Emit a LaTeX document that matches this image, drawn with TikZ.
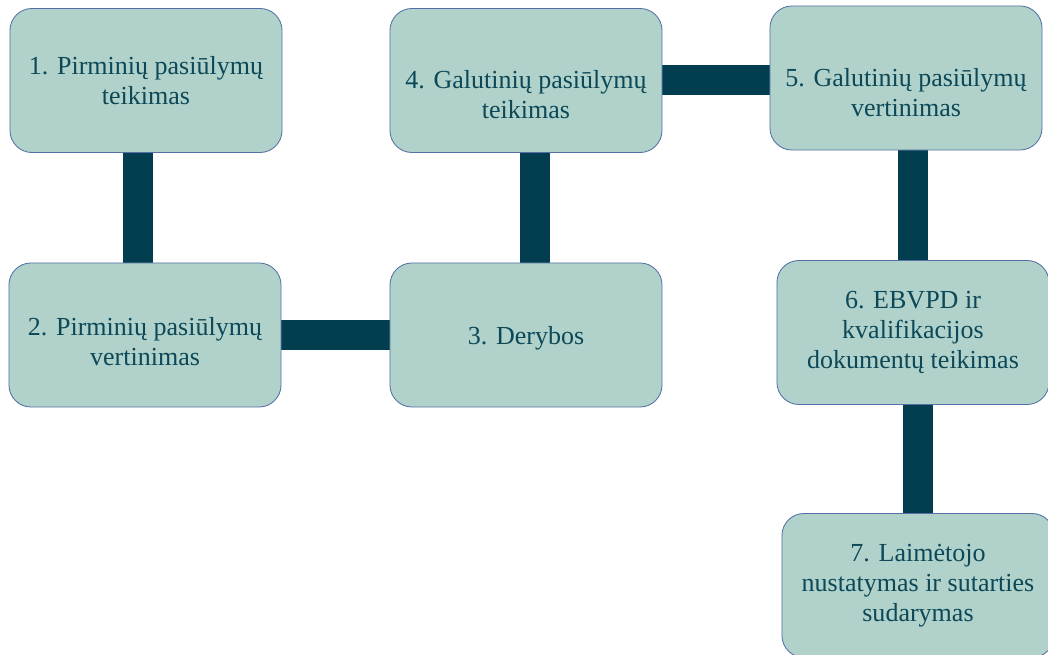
\documentclass[tikz,border=0pt]{standalone}
\usepackage{fontspec}
\setmainfont{Liberation Serif}
\usetikzlibrary{backgrounds}
\definecolor{boxfill}{RGB}{176,210,202}
\definecolor{boxline}{RGB}{84,112,164}
\definecolor{boxtext}{RGB}{12,72,88}
\definecolor{barcol}{RGB}{2,62,80}

\begin{document}
\begin{tikzpicture}[x=0.025cm, y=-0.025cm,
    stage/.style={draw=boxline, line width=0.6pt, fill=boxfill, rounded corners=0.55cm,
        minimum width=6.8cm, minimum height=3.6cm, inner sep=0pt},
    stagetext/.style={align=center, text=boxtext, inner sep=0pt,
        font=\fontsize{18.5}{21.3}\selectfont},
    bar/.style={draw=barcol, line width=0.75cm}]
    \useasboundingbox (0,0) rectangle (1048,655);
    \node[stage, label={[stagetext]center:{1. Pirminių pasiūlymų\\teikimas}}] (b1) at (146,80.5) {};
    \node[stage, label={[stagetext, yshift=-0.16cm]center:{2. Pirminių pasiūlymų\\vertinimas}}] (b2) at (145,335) {};
    \node[stage, label={[stagetext, yshift=-0.075cm]center:{3. Derybos}}] (b3) at (526,335) {};
    \node[stage, label={[stagetext, yshift=-0.35cm]center:{4. Galutinių pasiūlymų\\teikimas}}] (b4) at (526,80.5) {};
    \node[stage, label={[stagetext, yshift=-0.375cm]center:{5. Galutinių pasiūlymų\\vertinimas}}] (b5) at (906,78) {};
    \node[stage, label={[stagetext]center:{6. EBVPD ir\\kvalifikacijos\\dokumentų teikimas}}] (b6) at (913,332.5) {};
    \node[stage, label={[stagetext]center:{7. Laimėtojo\\nustatymas ir sutarties\\sudarymas}}] (b7) at (918,585.5) {};
    \begin{scope}[on background layer]
        \draw[bar] ([xshift=-0.21cm]b1.south) -- ([xshift=-0.21cm]b1.south |- b2.north);
        \draw[bar] (b2.east) -- (b3.west);
        \draw[bar] ([xshift=0.225cm]b3.north) -- ([xshift=0.225cm]b3.north |- b4.south);
        \draw[bar] (b4.east) -- (b4.east -| b5.west);
        \draw[bar] (b6.north) -- (b6.north |- b5.south);
        \draw[bar] (b7.north) -- (b7.north |- b6.south);
    \end{scope}
\end{tikzpicture}
\end{document}
